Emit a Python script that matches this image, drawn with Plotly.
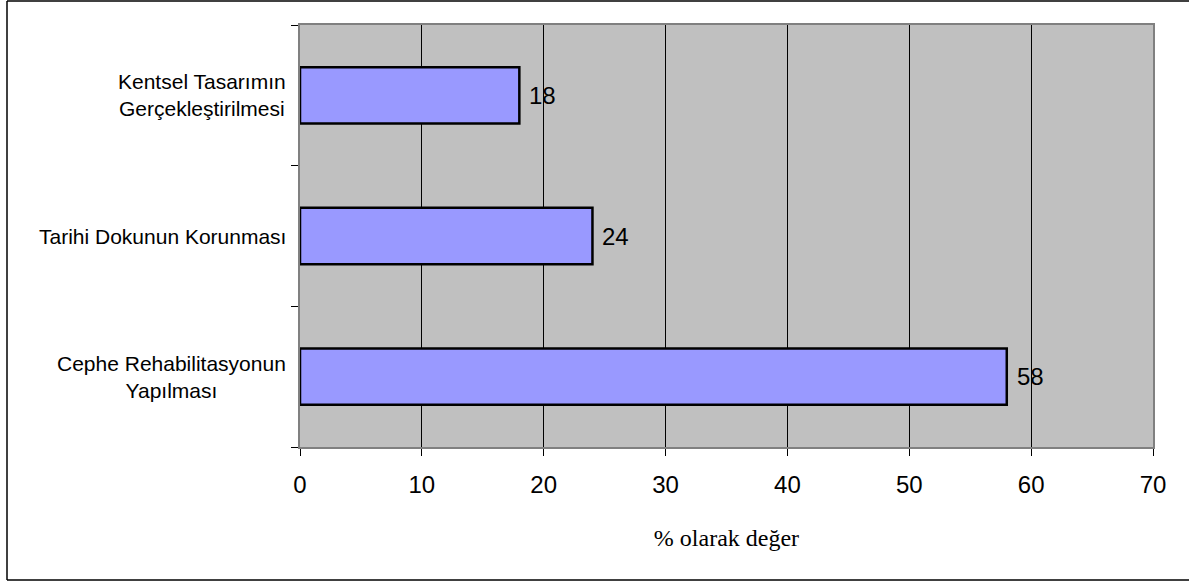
import plotly.graph_objects as go

# Survey results (percent), listed bottom-to-top as drawn on the y axis
categories = [
    "Cephe Rehabilitasyonun<br>Yapılması",
    "Tarihi Dokunun Korunması",
    "Kentsel Tasarımın<br>Gerçekleştirilmesi",
]
values = [58, 24, 18]
x_ticks = [0, 10, 20, 30, 40, 50, 60, 70]
x_title = "% olarak değer"

W, H = 1189, 583
L, R, T, B = 300, 36, 25, 136
plot_w = W - L - R
plot_h = H - T - B

sans = "Liberation Sans, Arial, sans-serif"
serif = "Liberation Serif, Times New Roman, serif"

fig = go.Figure(
    go.Bar(
        x=values,
        y=categories,
        orientation="h",
        marker=dict(color="#9999FF", line=dict(color="#000000", width=2.5)),
        hoverinfo="x+y",
    )
)

# value labels just to the right of each bar
for cat, v in zip(categories, values):
    fig.add_annotation(
        x=v, y=cat, xref="x", yref="y", text=str(v), showarrow=False,
        xanchor="left", yanchor="middle", xshift=8,
        font=dict(family=sans, size=24, color="#000000"),
    )

# category labels, centred line by line, to the left of the plot area
for cat in categories:
    fig.add_annotation(
        x=0, y=cat, xref="paper", yref="y", text=cat, showarrow=False,
        xanchor="right", yanchor="middle", xshift=-12, align="center",
        font=dict(family=sans, size=21, color="#000000"),
    )

# chart frame (open on the right edge)
def px_x(px):
    return (px - L) / plot_w

def px_y(py):
    return (H - B - py) / plot_h

frame = dict(color="#000000", width=1.5)
fig.add_shape(type="line", xref="paper", yref="paper",
              x0=px_x(7), x1=px_x(1200), y0=px_y(1), y1=px_y(1), line=frame)
fig.add_shape(type="line", xref="paper", yref="paper",
              x0=px_x(7), x1=px_x(1200), y0=px_y(580), y1=px_y(580), line=frame)
fig.add_shape(type="line", xref="paper", yref="paper",
              x0=px_x(7), x1=px_x(7), y0=px_y(1), y1=px_y(580), line=frame)

fig.update_layout(
    width=W,
    height=H,
    margin=dict(l=L, r=R, t=T, b=B, pad=0),
    paper_bgcolor="#FFFFFF",
    plot_bgcolor="#C0C0C0",
    bargap=0.6,
    showlegend=False,
    xaxis=dict(
        range=[0, 70],
        tickmode="array",
        tickvals=x_ticks,
        ticktext=[str(t) for t in x_ticks],
        ticks="outside",
        ticklen=7,
        tickwidth=1,
        tickcolor="#000000",
        ticklabelstandoff=8,
        tickfont=dict(family=sans, size=24, color="#000000"),
        showgrid=True,
        gridcolor="#000000",
        gridwidth=1,
        zeroline=False,
        showline=True,
        linecolor="#808080",
        linewidth=2,
        mirror=True,
        title=dict(text=x_title, font=dict(family=serif, size=24, color="#000000"), standoff=32),
    ),
    yaxis=dict(
        type="category",
        categoryorder="array",
        categoryarray=categories,
        tickson="boundaries",
        ticks="outside",
        ticklen=7,
        tickwidth=1,
        tickcolor="#000000",
        showticklabels=False,
        showgrid=False,
        zeroline=False,
        showline=True,
        linecolor="#808080",
        linewidth=2,
        mirror=True,
    ),
)

fig.write_html("out.html")
